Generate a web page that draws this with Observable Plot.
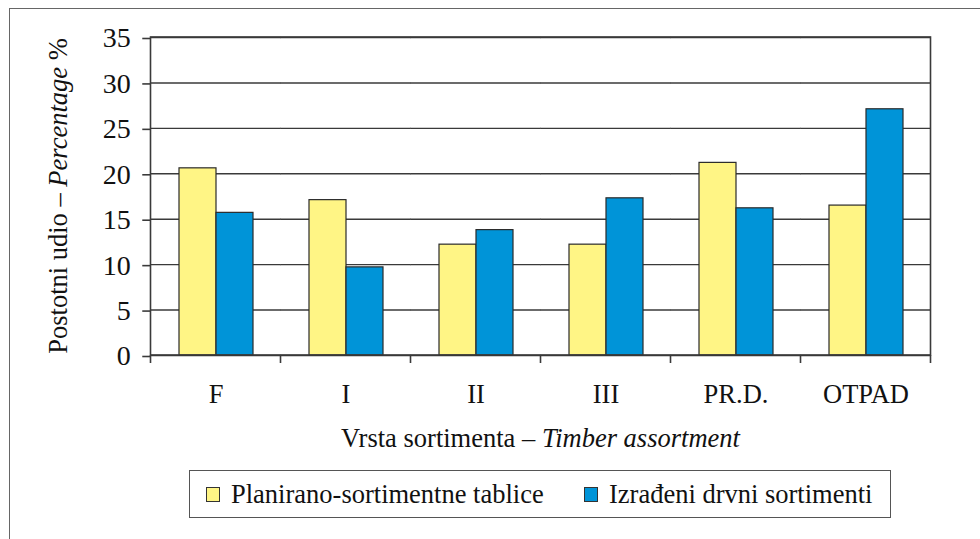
<!DOCTYPE html>
<html>
<head>
<meta charset="utf-8">
<script src="https://cdn.jsdelivr.net/npm/d3@7"></script>
<script src="https://cdn.jsdelivr.net/npm/@observablehq/plot@0.6"></script>
<style>
  html, body { margin: 0; padding: 0; background: #fff; }
  #wrap { position: relative; width: 980px; height: 539px; overflow: hidden; font-family: "Liberation Serif", Tinos, "Times New Roman", serif; }
  #outer { position: absolute; left: 9px; top: 8px; width: 1000px; height: 600px; border-left: 1.5px solid #666; border-top: 1.5px solid #666; }
  #chart { position: absolute; left: 0; top: 0; }
  #legend { position: absolute; left: 189px; top: 470px; width: 700px; height: 46px; border: 1.5px solid #555; box-sizing: content-box; }
  .item { position: absolute; top: 0; height: 46px; display: flex; align-items: center; font-size: 26.5px; color: #111; white-space: nowrap; }
  .sw { width: 12px; height: 13px; border: 1px solid #333; margin-right: 11px; margin-top: 1px; flex: none; }
  #chart svg text { font-family: "Liberation Serif", Tinos, "Times New Roman", serif; }
</style>
</head>
<body>
<div id="wrap">
  <div id="outer"></div>
  <div id="chart"></div>
  <div id="legend"></div>
</div>
<script>
const categories = ["F", "I", "II", "III", "PR.D.", "OTPAD"];
const seriesNames = ["Planirano-sortimentne tablice", "Izrađeni drvni sortimenti"];
const planirano = [20.6, 17.1, 12.2, 12.2, 21.2, 16.5];
const izradeni  = [15.7, 9.7, 13.8, 17.3, 16.2, 27.1];
const seriesColors = ["#fff585", "#0094d8"];
const yTicks = [0, 5, 10, 15, 20, 25, 30, 35];

const rows = [];
categories.forEach((c, i) => {
  rows.push({cat: c, series: seriesNames[0], value: planirano[i]});
  rows.push({cat: c, series: seriesNames[1], value: izradeni[i]});
});

const W = 980, H = 460, mL = 149, mR = 48, mT = 37, mB = 105;
const padIn = 0.425, padOut = padIn / 2;
const step = (W - mL - mR) / (categories.length - padIn + 2 * padOut);
const halfGap = padIn * step / 2;

const plot = Plot.plot({
  width: W,
  height: H,
  marginLeft: mL,
  marginRight: mR,
  marginTop: mT,
  marginBottom: mB,
  style: {fontSize: "26.5px", color: "#111", background: "transparent"},
  fx: {domain: categories, paddingInner: padIn, paddingOuter: padOut, label: null},
  x: {domain: seriesNames, padding: 0, axis: null},
  y: {domain: [0, 35], label: null},
  color: {domain: seriesNames, range: seriesColors},
  marks: [
    Plot.ruleY(yTicks, {y: d => d, stroke: "#3a3a3a", strokeWidth: 1.4, insetLeft: -halfGap, insetRight: -halfGap}),
    Plot.barY(rows, {fx: "cat", x: "series", y: "value", fill: "series", stroke: "#2a2a2a", strokeWidth: 1.2}),
    Plot.axisY(yTicks, {anchor: "left", tickSize: 8, tickPadding: 12, dx: -halfGap, dy: 1, fontSize: 28, label: null, stroke: "#3a3a3a", strokeWidth: 1.6}),
    Plot.axisFx({anchor: "bottom", tickSize: 0, tickPadding: 29, label: null})
  ]
});
document.getElementById("chart").appendChild(plot);

const svg = d3.select(plot.tagName.toLowerCase() === "svg" ? plot : plot.querySelector("svg"));
const fx = plot.scale("fx");
const y = plot.scale("y");
const y0 = y.apply(0), yTop = y.apply(35);
const gap = fx.step - fx.bandwidth;
const bounds = categories.map(c => fx.apply(c) - gap / 2);
bounds.push(fx.apply(categories[categories.length - 1]) + fx.bandwidth + gap / 2);

// plot-area frame
svg.append("rect")
  .attr("x", bounds[0]).attr("y", yTop)
  .attr("width", bounds[bounds.length - 1] - bounds[0]).attr("height", y0 - yTop)
  .attr("fill", "none").attr("stroke", "#3a3a3a").attr("stroke-width", 1.6);

// boundary ticks between categories
svg.append("g").selectAll("line").data(bounds).join("line")
  .attr("x1", d => d).attr("x2", d => d)
  .attr("y1", y0).attr("y2", y0 + 8)
  .attr("stroke", "#3a3a3a").attr("stroke-width", 1.6);

// axis titles with mixed italics
const xMid = (bounds[0] + bounds[bounds.length - 1]) / 2;
const xt = svg.append("text").attr("x", xMid).attr("y", 447)
  .attr("text-anchor", "middle").attr("font-size", 26.5).attr("fill", "#111");
xt.append("tspan").text("Vrsta sortimenta – ");
xt.append("tspan").attr("font-style", "italic").text("Timber assortment");

const yMid = (y0 + yTop) / 2;
const yt = svg.append("text").attr("transform", `translate(67,${yMid}) rotate(-90)`)
  .attr("text-anchor", "middle").attr("font-size", 26.5).attr("fill", "#111");
yt.append("tspan").text("Postotni udio – ");
yt.append("tspan").attr("font-style", "italic").text("Percentage");
yt.append("tspan").text(" %");

// legend
const legend = document.getElementById("legend");
const lefts = [16, 394];
seriesNames.forEach((s, i) => {
  const it = document.createElement("div");
  it.className = "item";
  it.style.left = lefts[i] + "px";
  const sw = document.createElement("div");
  sw.className = "sw";
  sw.style.background = seriesColors[i];
  it.appendChild(sw);
  it.appendChild(document.createTextNode(s));
  legend.appendChild(it);
});
</script>
</body>
</html>
